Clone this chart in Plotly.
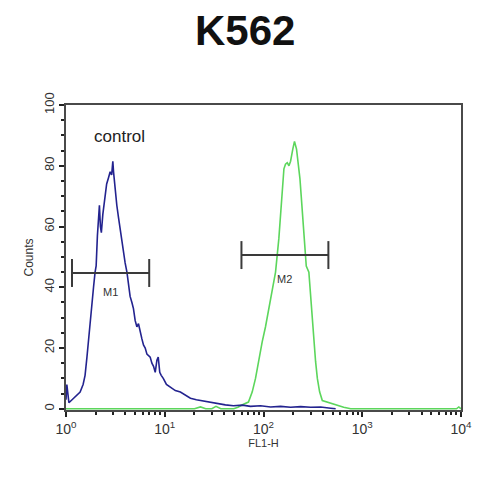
import math
import plotly.graph_objects as go

# FL1-H intensity and counts
CONTROL_FL1 = [1.00, 1.02, 1.07, 1.15, 1.26, 1.39, 1.49, 1.56, 1.63, 1.68,
               1.75, 1.82, 1.90, 1.97, 2.02, 2.08, 2.13, 2.18, 2.23, 2.28,
               2.36, 2.43, 2.49, 2.58, 2.69, 2.80, 2.90, 2.98, 3.03, 3.15,
               3.27, 3.40, 3.53, 3.68, 3.82, 3.97, 4.14, 4.29, 4.46, 4.65,
               4.82, 5.02, 5.22, 5.42, 5.64, 5.87, 6.09, 6.34, 6.60, 6.85,
               7.12, 7.41, 7.70, 8.01, 8.33, 8.59, 8.90, 9.21, 9.66, 10.4,
               11.4, 12.8, 14.4, 16.2, 18.2, 20.9, 24.6, 29.0, 34.1, 41.1,
               49.6, 61.2, 73.8, 93.3, 118, 149, 188, 238, 300, 379,
               479, 538]
CONTROL_COUNTS = [3, 8, 2, 3, 4, 5.5, 8, 11, 17, 22,
                  28, 33, 40, 45, 47, 57, 62, 67, 60, 58,
                  64, 68, 71, 74, 76, 78, 77, 81.5, 78, 72,
                  67, 63, 59, 56, 52, 48, 45, 41, 37, 35,
                  33, 29, 27, 28, 25, 23, 21, 20, 18, 17.5,
                  17, 15, 14, 12, 16, 17, 12, 11, 10, 8,
                  7, 6, 5.5, 4.5, 3.5, 3, 2.6, 2.2, 1.6, 1.3,
                  1.0, 1.2, 0.8, 1.0, 0.6, 0.8, 0.5, 0.7, 0.5, 0.6,
                  0.2, 0]

ANTIBODY_FL1 = [1.0, 15, 20, 23, 26, 30, 33, 37, 50, 55,
                58, 62.7, 70.4, 76.8, 83.0, 89.6, 97.0, 104.8, 113.2, 122.5,
                132.4, 143, 149, 155, 161, 167, 174, 181, 188, 198,
                206, 216, 223, 234, 241, 251, 261, 271, 288, 300,
                312, 324, 337, 351, 370, 394, 443, 498, 560, 649,
                764, 9000, 9500, 10000]
ANTIBODY_COUNTS = [0, 0, 0, 0.6, 0, 0, 0.8, 0, 0, 0.5,
                   0.8, 1.5, 2.2, 5.5, 10, 16.5, 22, 27, 33, 38.5,
                   45, 56, 65, 73, 79, 80.5, 81, 80, 81.5, 85.5,
                   88, 85.5, 82, 75.7, 70, 62.5, 55, 47, 45, 37,
                   29.6, 22, 15.5, 10, 5.6, 2.7, 2.2, 1.6, 1.0, 0.5,
                   0, 0, 0.6, 0]

# gates: name, start, end, height, label height
GATES = [("M1", 1.15, 6.96, 44.7, 38.5),
         ("M2", 59.8, 454, 50.6, 42.8)]

X_TICKS = [1, 10, 100, 1000, 10000]
X_TICKTEXT = ["10<sup>0</sup>", "10<sup>1</sup>", "10<sup>2</sup>",
              "10<sup>3</sup>", "10<sup>4</sup>"]

AXIS_COL = "#4a4a4a"
FONT = "Liberation Sans"

fig = go.Figure()
fig.add_trace(go.Scatter(x=ANTIBODY_FL1, y=ANTIBODY_COUNTS, mode="lines",
                         line=dict(color="#5cd65c", width=1.6), showlegend=False))
fig.add_trace(go.Scatter(x=CONTROL_FL1, y=CONTROL_COUNTS, mode="lines",
                         line=dict(color="#23238f", width=1.6), showlegend=False))

for name, x0, x1, h, lab_y in GATES:
    cap = 4.6
    gx = [x0, x1, None, x0, x0, None, x1, x1]
    gy = [h, h, None, h - cap, h + cap, None, h - cap, h + cap]
    fig.add_trace(go.Scatter(x=gx, y=gy, mode="lines",
                             line=dict(color="#3a3a3a", width=2), showlegend=False))
    fig.add_annotation(x=(math.log10(x0) + math.log10(x1)) / 2, y=lab_y, text=name,
                       showarrow=False, font=dict(family=FONT, size=11, color="#333"))

fig.add_annotation(x=math.log10(3.45), y=89.5, text="control", showarrow=False,
                   font=dict(family=FONT, size=17, color="#222"))

minor_x = [m * 10 ** d for d in range(4) for m in range(2, 10)]

# the page body adds an 8px offset, so the figure is 492px and margins shifted
fig.update_layout(
    width=492, height=492,
    margin=dict(l=58, r=39, t=97, b=90),
    paper_bgcolor="white", plot_bgcolor="white",
    title=dict(text="<b>K562</b>", x=0.482, xanchor="center", y=0.955, yanchor="middle",
               font=dict(family=FONT, size=42, color="#111")),
    xaxis=dict(type="log", range=[0, 4], tickvals=X_TICKS, ticktext=X_TICKTEXT,
               automargin=False,
               ticks="outside", ticklen=5, tickwidth=1.5, tickcolor="#222",
               showline=True, linecolor=AXIS_COL, linewidth=2, mirror=True,
               showgrid=False, zeroline=False,
               tickfont=dict(family=FONT, size=14, color="#333"),
               minor=dict(tickvals=minor_x, ticks="outside", ticklen=3,
                          tickcolor="#222", showgrid=False),
               title=dict(text="FL1-H", standoff=0,
                          font=dict(family=FONT, size=11, color="#333"))),
    yaxis=dict(range=[-0.4, 100], tickvals=[0, 20, 40, 60, 80, 100], tickangle=-90,
               automargin=False,
               ticks="outside", ticklen=5, tickwidth=1.5, tickcolor="#222",
               showline=True, linecolor=AXIS_COL, linewidth=2, mirror=True,
               showgrid=False, zeroline=False,
               tickfont=dict(family=FONT, size=13, color="#333"),
               minor=dict(dtick=5, ticks="outside", ticklen=3, tickcolor="#222",
                          showgrid=False),
               title=dict(text="Counts", standoff=6,
                          font=dict(family=FONT, size=12, color="#333"))),
)

fig.write_html("out.html")
